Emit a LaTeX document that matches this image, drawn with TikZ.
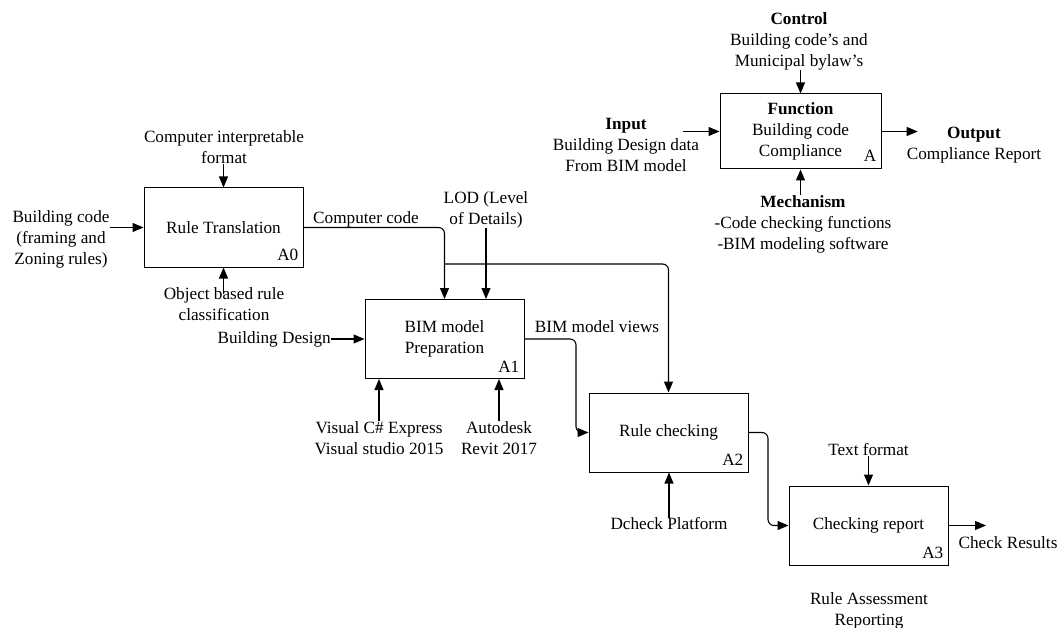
\documentclass[tikz,border=0pt]{standalone}
\usepackage{fontspec}
\setmainfont{Liberation Serif}
\usetikzlibrary{arrows.meta,calc}
\begin{document}
\begin{tikzpicture}[x=1pt,y=-1pt, font=\fontsize{17.2}{21}\selectfont,
  box/.style={draw, line width=1pt, minimum width=159pt, minimum height=79pt, inner sep=0pt, align=center},
  lbl/.style={inner sep=0pt, align=center},
  tag/.style={inner sep=0pt, anchor=base east},
  arr/.style={line width=1.1pt, -{Triangle[length=11pt,width=9pt]}},
  conn/.style={arr, rounded corners=6pt}]
\useasboundingbox (0,0) rectangle (1062,628);

% boxes
\node[box] (A0) at (223.5,227.5) {Rule Translation};
\node[box] (A1) at (444.5,339) {BIM model\\Preparation};
\node[box] (A2) at (668.5,432.5) {Rule checking};
\node[box] (A3) at (868.5,525.5) {Checking report};
\node[box, minimum width=161pt, minimum height=75pt] (L) at (800.5,131.5) {\textbf{Function}\\Building code\\Compliance};

% tags
\node[tag] (tA0) at ([xshift=-5pt,yshift=7pt]A0.south east) {A0};
\node[tag] (tA1) at ([xshift=-5pt,yshift=7pt]A1.south east) {A1};
\node[tag] (tA2) at ([xshift=-5pt,yshift=7pt]A2.south east) {A2};
\node[tag] (tA3) at ([xshift=-5pt,yshift=7pt]A3.south east) {A3};
\node[tag] (tL) at ([xshift=-5pt,yshift=8pt]L.south east) {A};

% labels
\node[lbl] (c0) at (224,147) {Computer interpretable\\format};
\node[lbl] (i0) at (61,239) {Building code\\(framing and\\Zoning rules)};
\node[lbl] (m0) at (224,304) {Object based rule\\classification};
\node[lbl] (cc) at (366,219) {Computer code};
\node[lbl] (lod) at (486,210) {LOD (Level\\of Details)};
\node[lbl, anchor=east] (bd) at (331,339) {Building Design};
\node[lbl] (vc) at (379,438) {Visual C\# Express\\Visual studio 2015};
\node[lbl] (ad) at (499,438) {Autodesk\\Revit 2017};
\node[lbl] (bv) at (597,327) {BIM model views};
\node[lbl] (dc) at (669,524) {Dcheck Platform};
\node[lbl] (tf) at (868.5,450) {Text format};
\node[lbl] (cr) at (1008,543) {Check Results};
\node[lbl] (ra) at (869,611) {Rule Assessment\\Reporting};

% legend labels
\node[lbl] (cL) at (799,41) {\textbf{Control}\\Building code’s and\\Municipal bylaw’s};
\node[lbl] (iL) at (626,145) {\textbf{Input}\\Building Design data\\From BIM model};
\node[lbl] (oL) at (974,145) {\textbf{Output}\\Compliance Report};
\node[lbl] (mL) at (803,224.5) {\textbf{Mechanism}\\-Code checking functions\\-BIM modeling software};

% connectors
\draw[arr] (i0.east |- A0.west) -- (A0.west);
\draw[arr] (c0.south -| A0.north) -- (A0.north);
\draw[arr] ($(m0.north -| A0.south)+(0,7)$) -- (A0.south);
\draw[conn] (A0.east) -| (A1.north);
\coordinate (br) at (444.5,264);
\draw[conn] (br) -| (A2.north);
\draw[arr] (lod.south) -- (lod.south |- A1.north);
\draw[arr] (bd.east) -- (A1.west);
\draw[arr] (vc.north) -- (vc.north |- A1.south);
\draw[arr] (ad.north) -- (ad.north |- A1.south);
\coordinate (k1) at (576,0);
\draw[conn] (A1.east) -- (A1.east -| k1) -- (k1 |- A2.west) -- (A2.west);
\coordinate (k2) at (768,0);
\draw[conn] (A2.east) -- (A2.east -| k2) -- (k2 |- A3.west) -- (A3.west);
\draw[arr] (dc.north) -- (dc.north |- A2.south);
\draw[arr] (tf.south) -- (A3.north);
\coordinate (o3) at (986,525.5);
\draw[arr] (A3.east) -- (o3);

% legend connectors
\draw[arr] (cL.south -| L.north) -- (L.north);
\draw[arr] ($(iL.east |- L.west)+(-16,0)$) -- (L.west);
\draw[arr] (L.east) -- ($(oL.west |- L.east)+(11,0)$);
\draw[arr] (mL.north -| L.south) -- (L.south);
\end{tikzpicture}
\end{document}
